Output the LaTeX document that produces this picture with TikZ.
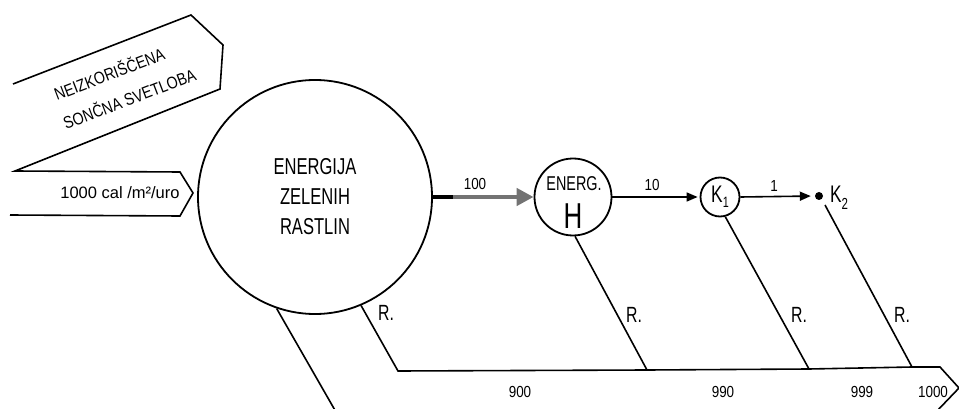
\documentclass[tikz,border=0pt]{standalone}
\usepackage{fontspec}
\setmainfont{Liberation Sans}
\newfontfamily\cond{Liberation Sans}[FakeStretch=0.72]
\newfontfamily\semicond{Liberation Sans}[FakeStretch=0.84]
\usetikzlibrary{arrows.meta}
\begin{document}
\begin{tikzpicture}[x=1pt,y=-1pt,
  ln/.style={line width=1.6pt, line join=miter},
  circ/.style={circle, draw, line width=1.8pt, inner sep=0pt},
  big/.style={font=\cond\fontsize{23}{30}\selectfont, align=center},
  lbl/.style={font=\semicond\fontsize{16}{18}\selectfont, inner sep=0pt},
  rlbl/.style={font=\cond\fontsize{22}{24}\selectfont, inner sep=0pt},
  slant/.style={font=\semicond\fontsize{17}{18}\selectfont, rotate=21, inner sep=0pt, anchor=base west},
  thinarrow/.style={line width=1.6pt, -{Triangle[length=11pt,width=9pt]}},
  grayarrow/.style={line width=4.5pt, draw=black!55, -{Triangle[length=17pt,width=17pt]}},
]
\useasboundingbox (0,0) rectangle (959,409);
\clip (0,0) rectangle (959,409);

% main circles
\node[circ, minimum size=234pt, big] (G) at (315,197) {ENERGIJA\\ZELENIH\\RASTLIN};
\node[circ, minimum size=77pt] (H) at (573,197) {};
\node[font=\cond\fontsize{20}{20}\selectfont, inner sep=0pt] (Ht) at (574,184) {ENERG.};
\node[font=\cond\fontsize{36}{36}\selectfont, inner sep=0pt] (Hh) at (573,216) {H};
\node[circ, minimum size=39pt, font=\cond\fontsize{24}{24}\selectfont] (K1) at (720,197)
  {K\raisebox{-5pt}{\fontsize{15}{15}\selectfont 1}};
\node[circle, fill, inner sep=0pt, minimum size=8pt] (D) at (819,196) {};
\node[anchor=west, inner sep=0pt, font=\cond\fontsize{24}{24}\selectfont] (K2) at (830,198)
  {K\raisebox{-7pt}{\fontsize{16}{16}\selectfont 2}};

% arrows
\draw[grayarrow] (G.east) -- (H.west);
\draw[line width=3.5pt] (G.east) -- ++(20,0);
\draw[thinarrow, shorten >=2pt] (H.east) -- (K1.west);
\draw[thinarrow, shorten >=4pt] (K1.east) -- (D.west);
\node[lbl] (l100) at (475,184) {100};
\node[lbl] (l10) at (652,185) {10};
\node[lbl] (l1) at (774,186) {1};

% respiration band
\coordinate (b1) at (398,371);
\coordinate (b2) at (647,370);
\coordinate (b3) at (809,369);
\coordinate (b4) at (912,367);
\coordinate (b5) at (940,367);
\coordinate (tip) at (959,388);
\coordinate (b6) at (936,412);
\coordinate (b0) at (336,412);
\coordinate (d0) at (825,205);
\draw[ln] (G.-67) -- (b1) -- (b2) -- (b3) -- (b4) -- (b5) -- (tip) -- (b6) -- (b0) -- (G.-109);
\draw[ln] (H.-87) -- (b2);
\draw[ln] (K1.-75) -- (b3);
\draw[ln] (d0) -- (b4);
\node[rlbl] (r1) at (386,313) {R.};
\node[rlbl] (r2) at (634,315) {R.};
\node[rlbl] (r3) at (799,315) {R.};
\node[rlbl] (r4) at (902,315) {R.};
\node[lbl] (n900) at (520,392) {900};
\node[lbl] (n990) at (723,392) {990};
\node[lbl] (n999) at (862,392) {999};
\node[lbl] (n1000) at (933,392) {1000};

% incoming light
\coordinate (p1) at (13,84);
\coordinate (p2) at (191,15);
\coordinate (p3) at (223,45);
\coordinate (p4) at (220,89);
\coordinate (p5) at (15,171);
\coordinate (p6) at (180,172);
\coordinate (p7) at (193,193);
\coordinate (p8) at (180,216);
\coordinate (p9) at (10,215);
\draw[ln] (p1) -- (p2) -- (p3) -- (p4) -- (p5) -- (p6) -- (p7) -- (p8) -- (p9);
\node[slant] (un1) at (57,101) {NEIZKORIŠČENA};
\node[slant] (un2) at (66,130) {SONČNA SVETLOBA};
\node[font=\fontsize{16.5}{18}\selectfont, inner sep=0pt] (inlight) at (120,193) {1000 cal /m²/uro};
\end{tikzpicture}
\end{document}
